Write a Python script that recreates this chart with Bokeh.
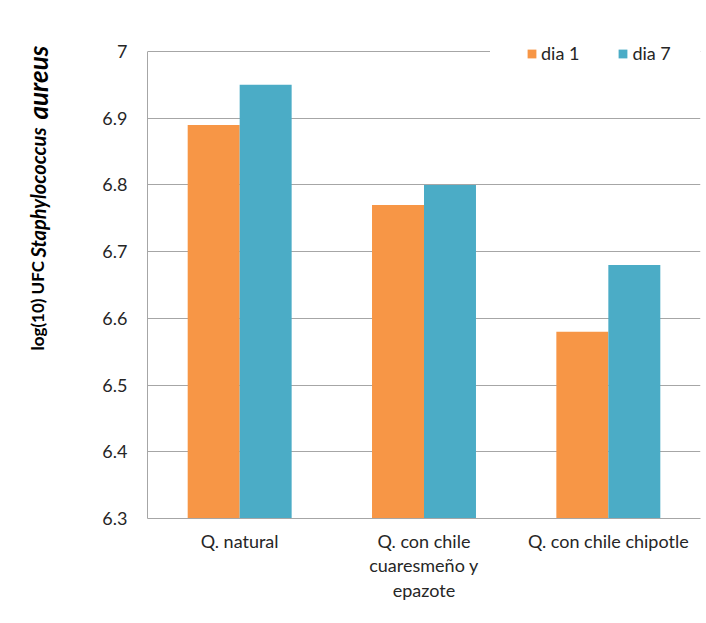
import math
from bokeh.plotting import figure
from bokeh.layouts import row
from bokeh.models import (FactorRange, Range1d, FixedTicker, CustomJSTickFormatter,
                          Legend, LegendItem, ColumnDataSource)
from bokeh.transform import dodge
from bokeh.embed import file_html
from bokeh.resources import INLINE
from bokeh.core.properties import value

categories = ["Q. natural", "Q. con chile\ncuaresmeño y\nepazote", "Q. con chile chipotle"]
series_names = ["dia 1", "dia 7"]
dia1 = [6.89, 6.77, 6.58]
dia7 = [6.95, 6.80, 6.68]
y_ticks = [6.3, 6.4, 6.5, 6.6, 6.7, 6.8, 6.9, 7.0]
ylabel_parts = ["log(10) UFC ", "Staphylococcus ", "aureus"]
colors = ["#F79646", "#4BACC6"]

FONT = "Lato"
GRAY = "#A6A6A6"
TXT = "#262626"
H = 615
TOP = 36
frame_h = 482
BOTTOM = H - TOP - frame_h

# ---- main chart ----
data_h = 467  # pixels covered by the 6.3..7.0 span
y_end = y_ticks[0] + (y_ticks[-1] - y_ticks[0]) * frame_h / data_h

source = ColumnDataSource(dict(cat=categories, dia1=dia1, dia7=dia7))

p = figure(x_range=FactorRange(*categories), y_range=Range1d(y_ticks[0], y_end),
           frame_width=553, frame_height=frame_h,
           min_border_left=87, min_border_top=TOP, min_border_right=4, min_border_bottom=BOTTOM,
           output_backend="svg", toolbar_location=None)

bw = 0.282
r1 = p.vbar(x=dodge("cat", -bw / 2, range=p.x_range), top="dia1", bottom=y_ticks[0], width=bw,
            source=source, fill_color=colors[0], line_color=None)
r2 = p.vbar(x=dodge("cat", bw / 2, range=p.x_range), top="dia7", bottom=y_ticks[0], width=bw,
            source=source, fill_color=colors[1], line_color=None)

p.outline_line_color = None
p.xgrid.grid_line_color = None
p.ygrid.ticker = FixedTicker(ticks=y_ticks)
p.ygrid.grid_line_color = GRAY
p.ygrid.grid_line_width = 1

p.yaxis.ticker = FixedTicker(ticks=y_ticks)
p.yaxis.bounds = (y_ticks[0], y_ticks[-1])
p.yaxis.formatter = CustomJSTickFormatter(code="return tick.toFixed(1).replace(/\\.0$/, '');")
p.yaxis.major_tick_out = 0
p.yaxis.major_tick_in = 0
p.yaxis.minor_tick_line_color = None
p.yaxis.axis_line_color = GRAY
p.yaxis.major_label_standoff = 20
p.yaxis.major_label_text_font = FONT
p.yaxis.major_label_text_font_size = "18px"
p.yaxis.major_label_text_color = TXT

p.xaxis.major_tick_line_color = None
p.xaxis.minor_tick_line_color = None
p.xaxis.axis_line_color = GRAY
p.xaxis.major_label_standoff = 5
p.xaxis.major_label_text_font = FONT
p.xaxis.major_label_text_font_size = "18px"
p.xaxis.major_label_text_color = TXT
p.xaxis.major_label_text_line_height = 1.12

legend = Legend(items=[LegendItem(label=series_names[0], renderers=[r1]),
                       LegendItem(label=series_names[1], renderers=[r2])],
                orientation="horizontal", location=(343, 418), padding=36, margin=0,
                glyph_width=11, glyph_height=11, label_standoff=4, spacing=38,
                label_text_font=FONT, label_text_font_size="18px", label_text_color=TXT,
                border_line_alpha=0, background_fill_color="white", background_fill_alpha=1)
p.add_layout(legend, "center")

# ---- y label strip (frame aligned with main chart; data y = H - pixel y) ----
LW = 60
lab = figure(frame_width=LW, frame_height=frame_h,
             x_range=Range1d(0, LW), y_range=Range1d(BOTTOM, H - TOP),
             x_axis_type=None, y_axis_type=None,
             min_border_left=0, min_border_right=0, min_border_top=TOP, min_border_bottom=BOTTOM,
             output_backend="svg", toolbar_location=None)
lab.outline_line_color = None
lab.xgrid.grid_line_color = None
lab.ygrid.grid_line_color = None
lab_src = ColumnDataSource(dict(
    x=[37, 37, 37],
    y=[H - 350, H - 257, H - 119],
    text=ylabel_parts,
    style=["bold", "bold italic", "bold italic"],
    size=["17px", "20px", "26px"],
))
lab.text(x="x", y="y", text="text", source=lab_src, angle=math.pi / 2,
         text_align="left", text_baseline="alphabetic", text_font=value(FONT),
         text_font_style="style", text_font_size="size", text_color="black")

layout = row(lab, p)
open("out.html", "w").write(file_html(layout, INLINE))
